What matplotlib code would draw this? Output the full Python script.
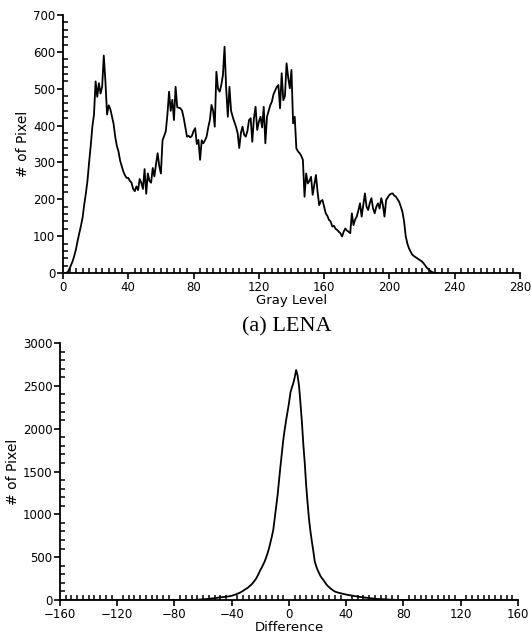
import numpy as np
import matplotlib
matplotlib.use("Agg")
import matplotlib.pyplot as plt
from matplotlib.ticker import MultipleLocator

# (a) LENA gray level histogram, one value per gray level 0..230
gray_levels = np.arange(0, 231)
gray_counts = [
    0, 0, 0, 3, 12, 22, 33, 48, 65, 88,
    108, 128, 150, 185, 215, 250, 300, 345, 397, 430,
    520, 478, 515, 487, 505, 590, 520, 430, 455, 445,
    425, 405, 370, 345, 330, 305, 290, 275, 265, 258,
    258, 250, 245, 228, 222, 235, 225, 255, 245, 228,
    282, 215, 270, 250, 245, 285, 262, 295, 325, 290,
    270, 360, 372, 385, 430, 492, 440, 470, 415, 505,
    450, 448, 447, 440, 420, 395, 370, 372, 368, 372,
    385, 393, 350, 361, 307, 360, 352, 360, 370, 395,
    415, 456, 440, 397, 546, 500, 492, 510, 537, 614,
    500, 424, 505, 440, 424, 410, 397, 380, 339, 380,
    397, 375, 370, 385, 415, 420, 356, 420, 451, 388,
    410, 424, 395, 451, 352, 424, 440, 455, 465, 485,
    495, 505, 510, 447, 542, 469, 480, 569, 530, 501,
    551, 406, 424, 338, 330, 325, 318, 307, 207, 270,
    243, 250, 261, 212, 240, 266, 220, 184, 195, 198,
    180, 162, 155, 144, 140, 126, 128, 120, 117, 112,
    108, 99, 112, 121, 115, 112, 108, 162, 130, 145,
    153, 170, 189, 153, 185, 216, 180, 171, 190, 203,
    175, 162, 180, 189, 175, 203, 185, 153, 198, 205,
    212, 215, 216, 210, 207, 200, 193, 180, 166, 140,
    100, 80, 67, 58, 50, 46, 43, 40, 37, 34,
    31, 26, 20, 14, 10, 6, 3, 1, 0, 0,
    0,
]

# difference histogram, one value per difference -70..90 (zero elsewhere)
diff_levels = np.arange(-70, 91)
diff_counts = [
    0, 0, 0, 0, 1, 2, 3, 4, 5, 6,
    8, 10, 11, 12, 14, 16, 18, 20, 22, 24,
    25, 27, 29, 31, 33, 35, 37, 40, 43, 46,
    50, 55, 60, 66, 73, 80, 88, 98, 108, 120,
    130, 140, 155, 170, 185, 205, 225, 250, 280, 315,
    350, 380, 415, 450, 495, 545, 600, 670, 740, 817,
    950, 1080, 1220, 1390, 1556, 1710, 1868, 1990, 2100, 2200,
    2300, 2420, 2480, 2530, 2600, 2685, 2620, 2500, 2300, 2080,
    1820, 1600, 1340, 1130, 940, 800, 680, 570, 450, 395,
    350, 315, 280, 255, 235, 210, 185, 165, 150, 135,
    122, 110, 100, 93, 88, 83, 79, 75, 72, 68,
    64, 60, 57, 54, 51, 48, 45, 42, 40, 38,
    35, 32, 30, 28, 26, 24, 22, 20, 18, 16,
    14, 13, 12, 11, 10, 9, 8, 7, 6, 5,
    4, 4, 3, 3, 2, 2, 1, 1, 1, 0,
    0, 0, 0, 0, 0, 0, 0, 0, 0, 0,
    0,
]
diff_x = np.concatenate([[-160], diff_levels, [160]])
diff_y = np.concatenate([[0], diff_counts, [0]])

sans = "DejaVu Sans"
serif = "Liberation Serif"

fig = plt.figure(figsize=(5.31, 6.34), dpi=100)


def style_axes(ax):
    for s in ["top", "right"]:
        ax.spines[s].set_visible(False)
    for s in ["left", "bottom"]:
        ax.spines[s].set_linewidth(1.3)
    ax.tick_params(which="major", direction="out", length=4, width=1.2,
                   labelsize=8.5, pad=1.5)
    ax.tick_params(which="minor", direction="in", length=3.5, width=1.1)
    for lab in ax.get_xticklabels() + ax.get_yticklabels():
        lab.set_family(sans)


# top: LENA gray level
ax1 = fig.add_axes([0.1186, 0.5694, 0.8606, 0.4069])
ax1.plot(gray_levels, gray_counts, color="black", lw=1.3)
ax1.set_xlim(0, 280)
ax1.set_ylim(0, 700)
ax1.xaxis.set_major_locator(MultipleLocator(40))
ax1.xaxis.set_minor_locator(MultipleLocator(4))
ax1.yaxis.set_major_locator(MultipleLocator(100))
ax1.yaxis.set_minor_locator(MultipleLocator(20))
style_axes(ax1)
ax1.set_xlabel("Gray Level", fontsize=9.5, family=sans, labelpad=0)
ax1.set_ylabel("# of Pixel", fontsize=10, family=sans, labelpad=2)

fig.text(0.54, 1 - 327 / 634, "(a) LENA", fontsize=16, family=serif,
         ha="center", va="center")

# bottom: difference
ax2 = fig.add_axes([0.1130, 0.0536, 0.8625, 0.4054])
ax2.plot(diff_x, diff_y, color="black", lw=1.3)
ax2.set_xlim(-160, 160)
ax2.set_ylim(0, 3000)
ax2.xaxis.set_major_locator(MultipleLocator(40))
ax2.xaxis.set_minor_locator(MultipleLocator(4))
ax2.yaxis.set_major_locator(MultipleLocator(500))
ax2.yaxis.set_minor_locator(MultipleLocator(100))
style_axes(ax2)
ax2.set_xticks(np.arange(-160, 161, 40))
ax2.set_xticklabels([str(v).replace("-", "\u2212") for v in range(-160, 161, 40)],
                    family=sans)
ax2.set_xlabel("Difference", fontsize=9.5, family=sans, labelpad=0)
ax2.set_ylabel("# of Pixel", fontsize=10, family=sans, labelpad=2)

fig.savefig("out.png", dpi=100)
